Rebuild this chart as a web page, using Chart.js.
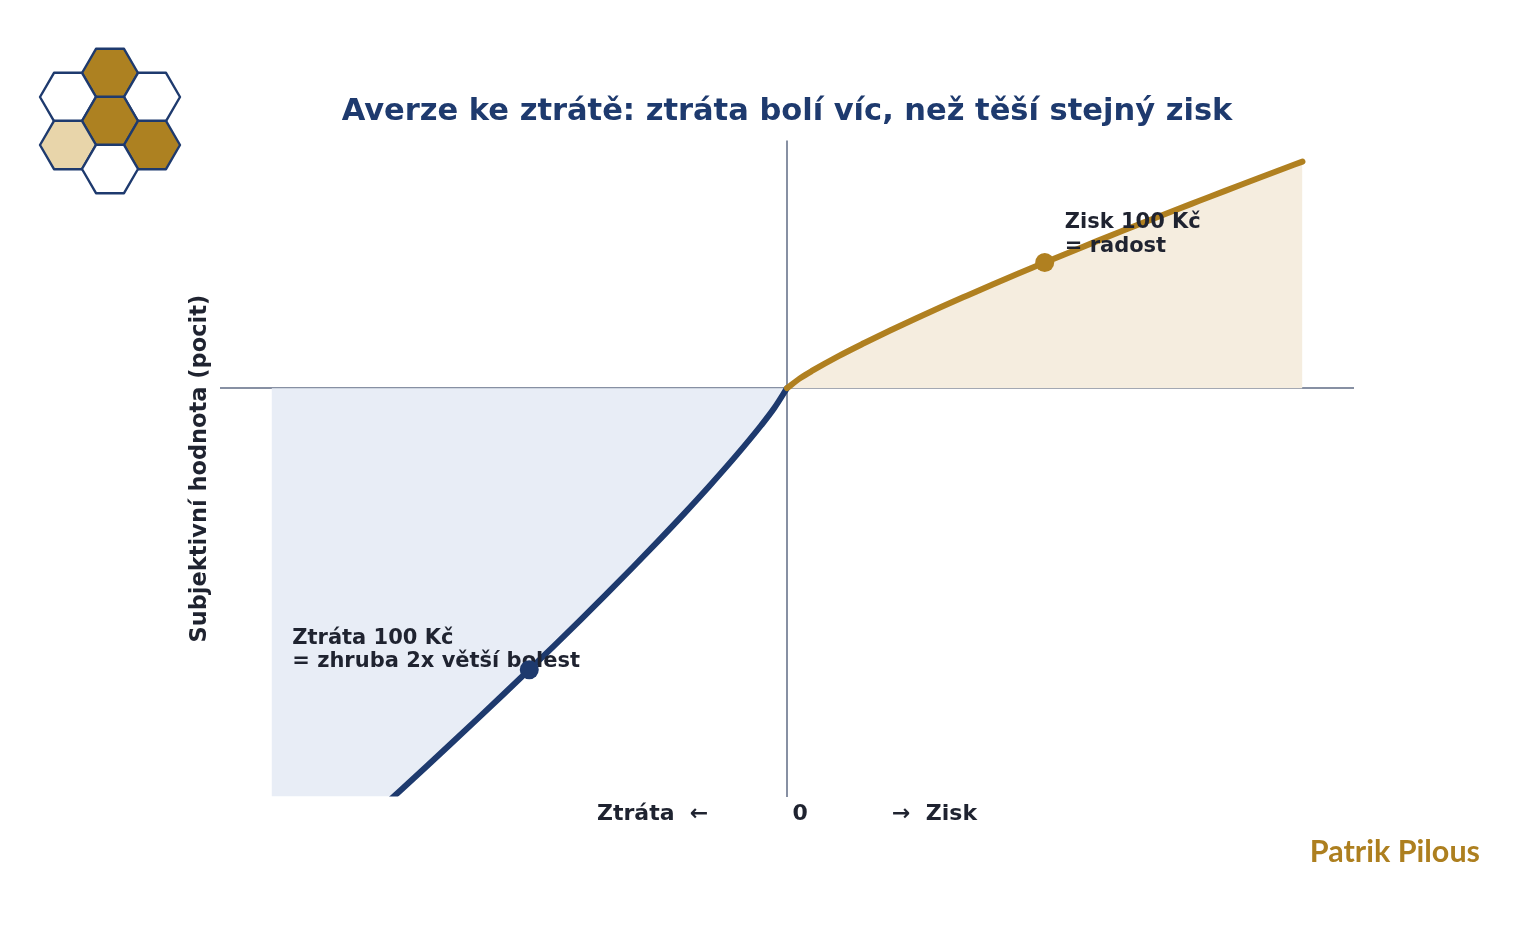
<!DOCTYPE html>
<html>
<head>
<meta charset="utf-8">
<script src="https://cdn.jsdelivr.net/npm/chart.js@4"></script>
<style>
  html, body { margin: 0; padding: 0; background: #fff; }
  #wrap { position: relative; width: 1537px; height: 927px; }
  #logo { position: absolute; left: 0; top: 0; }
</style>
</head>
<body>
<div id="wrap">
  <canvas id="chart"></canvas>
  <svg id="logo" width="220" height="220"></svg>
</div>
<script>
// value function (x = money, y = felt value)
var gainX = [0, 5, 10, 20, 30, 40, 50, 60, 70, 80, 90, 100, 110, 120, 130, 140, 150, 160, 170, 180, 190, 200];
var gainY = [0, 7.8, 14.1, 25.5, 35.9, 45.9, 55.5, 64.8, 73.8, 82.7, 91.4, 100, 108.4, 116.8, 125.0, 133.1, 141.2, 149.1, 157.0, 164.8, 172.6, 180.3];
var lossX = [-200, -190, -180, -170, -160, -150, -140, -130, -120, -110, -100, -90, -80, -70, -60, -50, -40, -30, -20, -10, -5, 0];
var lossY = [-412.2, -394.1, -375.8, -357.3, -338.8, -320.1, -301.2, -282.2, -263.0, -243.6, -224, -204.2, -184.1, -163.7, -142.9, -121.7, -100.0, -77.6, -54.3, -29.5, -16.0, 0];
var markGain = [100, 100];
var markLoss = [-100, -224];
var gainNote = ['Zisk 100 Kč', '= radost'];
var lossNote = ['Ztráta 100 Kč', '= zhruba 2x větší bolest'];

var NAVY = '#1e3a6e';
var GOLD = '#b08020';
var INK = '#1f2330';

function pts(xs, ys) {
  return xs.map(function (x, i) { return { x: x, y: ys[i] }; });
}

// honeycomb logo
(function () {
  var svg = document.getElementById('logo');
  var R = 28;
  var cells = [
    [110, 73, '#ad8121'], [68, 97, '#ffffff'], [152, 97, '#ffffff'],
    [110, 121, '#ad8121'], [68, 145, '#e8d5aa'], [152, 145, '#ad8121'],
    [110, 169, '#ffffff']
  ];
  var html = '';
  cells.forEach(function (c) {
    var p = [];
    for (var k = 0; k < 6; k++) {
      var a = Math.PI / 3 * k;
      p.push((c[0] + R * Math.cos(a)).toFixed(1) + ',' + (c[1] + R * Math.sin(a)).toFixed(1));
    }
    html += '<polygon points="' + p.join(' ') + '" fill="' + c[2] + '" stroke="' + NAVY + '" stroke-width="2.4" stroke-linejoin="round"/>';
  });
  svg.innerHTML = html;
})();

var notes = {
  id: 'notes',
  afterDatasetDraw: function (chart, args) {
    if (args.index !== 2) return;
    var ctx = chart.ctx;
    var x = chart.scales.x, y = chart.scales.y;
    ctx.save();
    ctx.fillStyle = INK;
    ctx.font = 'bold 21px "DejaVu Sans"';
    ctx.textBaseline = 'middle';
    ctx.textAlign = 'left';
    var gx = x.getPixelForValue(markGain[0]), gy = y.getPixelForValue(markGain[1]);
    ctx.fillText(gainNote[0], gx + 20, gy - 40);
    ctx.fillText(gainNote[1], gx + 20, gy - 16);
    var lx = x.getPixelForValue(markLoss[0]), ly = y.getPixelForValue(markLoss[1]);
    ctx.fillText(lossNote[0], lx - 237, ly - 31);
    ctx.fillText(lossNote[1], lx - 237, ly - 8);
    ctx.restore();
  },
  afterDraw: function (chart) {
    var ctx = chart.ctx;
    ctx.save();
    ctx.fillStyle = '#ad7f1f';
    ctx.font = 'bold 30.5px "Lato"';
    ctx.textAlign = 'right';
    ctx.textBaseline = 'alphabetic';
    ctx.fillText('Patrik Pilous', 1480, 862);
    ctx.restore();
  }
};

function zeroOnly(scale) { scale.ticks = [{ value: 0 }]; }

new Chart(document.getElementById('chart'), {
  type: 'line',
  data: {
    datasets: [
      { data: [{ x: markGain[0], y: markGain[1] }], pointRadius: 9.5, pointBackgroundColor: GOLD, pointBorderWidth: 0, showLine: false },
      { data: [{ x: markLoss[0], y: markLoss[1] }], pointRadius: 9.5, pointBackgroundColor: NAVY, pointBorderWidth: 0, showLine: false },
      { data: pts(gainX, gainY), borderColor: GOLD, borderWidth: 6, borderCapStyle: 'round', pointRadius: 0,
        fill: 'origin', backgroundColor: '#f5eddf', cubicInterpolationMode: 'monotone' },
      { data: pts(lossX, lossY), borderColor: NAVY, borderWidth: 6, borderCapStyle: 'round', pointRadius: 0,
        fill: 'origin', backgroundColor: '#e8edf6', cubicInterpolationMode: 'monotone' }
    ]
  },
  options: {
    responsive: true,
    maintainAspectRatio: false,
    animation: false,
    layout: { padding: { left: 183, right: 183, top: 60, bottom: 96 } },
    plugins: {
      legend: { display: false },
      tooltip: { enabled: false },
      title: {
        display: true,
        fullSize: false,
        text: 'Averze ke ztrátě: ztráta bolí víc, než těší stejný zisk',
        color: NAVY,
        font: { family: 'DejaVu Sans', size: 30.5, weight: 'bold' },
        padding: { top: 34, bottom: 10 }
      }
    },
    scales: {
      x: {
        type: 'linear', min: -220, max: 220,
        afterBuildTicks: zeroOnly,
        ticks: { display: false },
        border: { display: false },
        grid: { drawTicks: false, color: '#8790a3', lineWidth: 2 },
        title: {
          display: true,
          text: 'Ztráta  ←           0           →  Zisk',
          color: INK,
          font: { family: 'DejaVu Sans', size: 22, weight: 'bold' },
          padding: { top: 4, bottom: 4 }
        }
      },
      y: {
        type: 'linear', min: -325, max: 197,
        afterBuildTicks: zeroOnly,
        ticks: { display: false },
        border: { display: false },
        grid: { drawTicks: false, color: '#8790a3', lineWidth: 2 },
        title: {
          display: true,
          text: 'Subjektivní hodnota (pocit)',
          color: INK,
          font: { family: 'DejaVu Sans', size: 22.5, weight: 'bold' },
          padding: { top: 4, bottom: 6 }
        }
      }
    }
  },
  plugins: [notes]
});
</script>
</body>
</html>
